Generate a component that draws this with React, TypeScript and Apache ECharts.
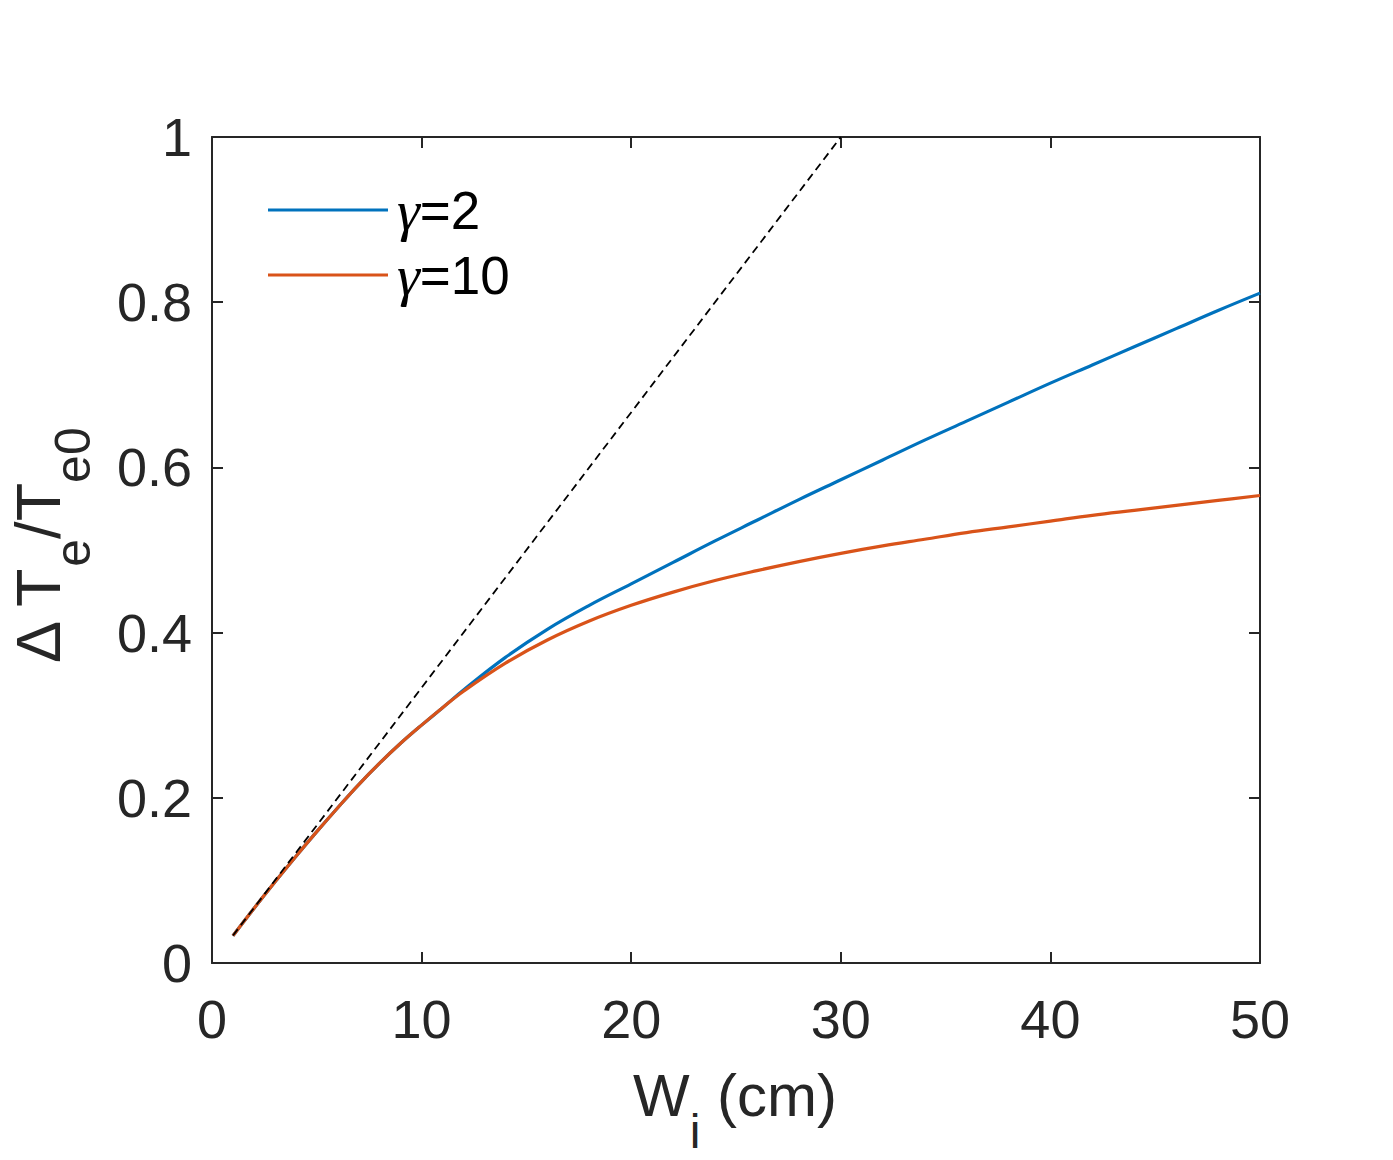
import React, { useEffect, useRef } from "react";
import * as echarts from "echarts";

const wi = [1, 2, 3, 4, 5, 6, 7, 8, 9, 10, 11, 12, 14, 16, 18, 20, 22, 24, 26, 28, 30, 32, 34, 36, 38, 40, 42, 44, 46, 48, 50];
const gamma2 = [0.033, 0.066, 0.098, 0.129, 0.159, 0.188, 0.216, 0.242, 0.266, 0.288, 0.309, 0.3305, 0.370, 0.404, 0.433, 0.459, 0.485, 0.511, 0.536, 0.561, 0.585, 0.609, 0.633, 0.656, 0.679, 0.702, 0.724, 0.746, 0.768, 0.79, 0.811];
const gamma10 = [0.033, 0.066, 0.098, 0.129, 0.159, 0.188, 0.216, 0.242, 0.266, 0.288, 0.309, 0.329, 0.363, 0.391, 0.414, 0.433, 0.449, 0.463, 0.475, 0.486, 0.496, 0.505, 0.513, 0.521, 0.528, 0.535, 0.542, 0.548, 0.554, 0.56, 0.566];
const refX = [1, 30];
const refY = [0.0333, 1.0];
const seriesNames = ["γ=2", "γ=10"];
const xTicks = { min: 0, max: 50, interval: 10 };
const yTicks = { min: 0, max: 1, interval: 0.2 };

const AX = "#262626";
const FONT = "'Liberation Sans', Arial, sans-serif";

export default function App() {
  const ref = useRef<HTMLDivElement>(null);
  useEffect(() => {
    if (!ref.current) return;
    const chart = echarts.init(ref.current, undefined, { renderer: "svg" });
    const axisCommon = {
      axisLine: { show: true, onZero: false, lineStyle: { color: AX, width: 2 } },
      axisTick: { show: true, inside: true, length: 11, lineStyle: { color: AX, width: 2 } },
      splitLine: { show: false },
    };
    chart.setOption({
      animation: false,
      backgroundColor: "#ffffff",
      grid: { left: 212, right: 133, top: 137, bottom: 197, containLabel: false },
      xAxis: [
        {
          type: "value",
          position: "bottom",
          ...xTicks,
          ...axisCommon,
          axisLabel: { show: true, color: AX, fontSize: 54, fontFamily: FONT, margin: 29 },
        },
        {
          type: "value",
          position: "top",
          ...xTicks,
          ...axisCommon,
          axisLabel: { show: false },
        },
      ],
      yAxis: [
        {
          type: "value",
          position: "left",
          ...yTicks,
          ...axisCommon,
          axisLabel: { show: true, color: AX, fontSize: 54, fontFamily: FONT, margin: 20 },
        },
        {
          type: "value",
          position: "right",
          ...yTicks,
          ...axisCommon,
          axisLabel: { show: false },
        },
      ],
      legend: {
        show: true,
        orient: "vertical",
        left: 268,
        top: 180,
        padding: 0,
        itemWidth: 120,
        itemHeight: 3,
        itemGap: 5,
        icon: "rect",
        data: seriesNames,
        formatter: (name: string) => "{g|γ}{t|" + name.slice(1) + "}",
        textStyle: {
          color: "#000",
          fontSize: 52,
          lineHeight: 60,
          fontFamily: FONT,
          rich: {
            g: { fontFamily: "'Liberation Serif', 'Times New Roman', serif", fontStyle: "italic", fontSize: 58, lineHeight: 60, color: "#000", padding: [0, 0, 0, 4] },
            t: { fontFamily: FONT, fontSize: 53, lineHeight: 60, color: "#000" },
          },
        },
      },
      series: [
        {
          name: seriesNames[0],
          type: "line",
          data: wi.map((x, i) => [x, gamma2[i]]),
          showSymbol: false,
          smooth: 0.4,
          lineStyle: { color: "#0072BD", width: 3.2 },
          itemStyle: { color: "#0072BD" },
          z: 2,
        },
        {
          name: seriesNames[1],
          type: "line",
          data: wi.map((x, i) => [x, gamma10[i]]),
          showSymbol: false,
          smooth: 0.4,
          lineStyle: { color: "#D95319", width: 3.2 },
          itemStyle: { color: "#D95319" },
          z: 3,
        },
        {
          name: "ref",
          type: "line",
          data: refX.map((x, i) => [x, refY[i]]),
          showSymbol: false,
          lineStyle: { color: "#000", width: 1.8, type: [8, 5] },
          z: 4,
          silent: true,
        },
      ],
      graphic: [
        {
          type: "text",
          x: 735,
          y: 1065,
          style: {
            text: "{n|W}{s|i}{n| (cm)}",
            align: "center",
            verticalAlign: "top",
            fill: AX,
            rich: {
              n: { fontSize: 60, lineHeight: 62, verticalAlign: "top", fontFamily: FONT, fill: AX },
              s: { fontSize: 48, lineHeight: 48, padding: [42, 0, 0, 0], verticalAlign: "top", fontFamily: FONT, fill: AX },
            },
          },
        },
        {
          type: "text",
          x: 38,
          y: 546,
          rotation: Math.PI / 2,
          style: {
            text: "{n|Δ T}{s|e}{n|/T}{s|e0}",
            align: "center",
            verticalAlign: "middle",
            fill: AX,
            rich: {
              n: { fontSize: 63, lineHeight: 64, verticalAlign: "top", fontFamily: FONT, fill: AX },
              s: { fontSize: 50, lineHeight: 50, padding: [42, 0, 0, 0], verticalAlign: "top", fontFamily: FONT, fill: AX },
            },
          },
        },
      ],
    });
    return () => chart.dispose();
  }, []);
  return (
    <div
      ref={ref}
      style={{ position: "absolute", left: 0, top: 0, width: 1393, height: 1160, background: "#fff" }}
    />
  );
}
